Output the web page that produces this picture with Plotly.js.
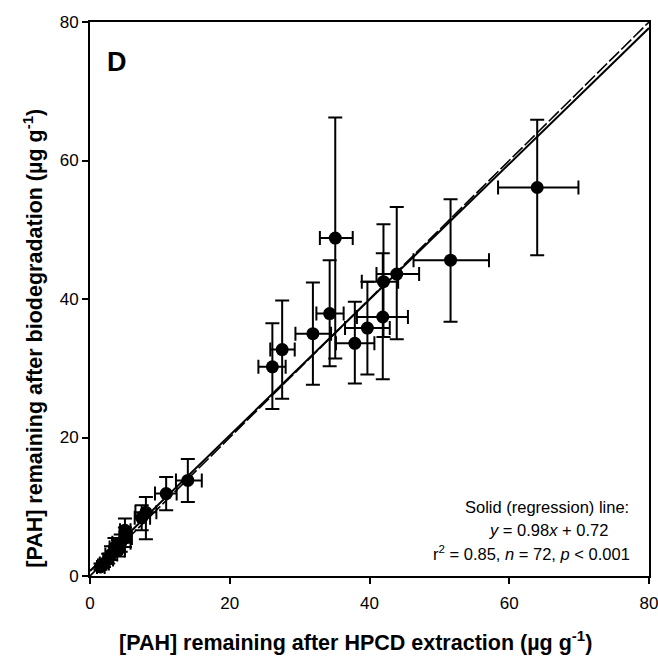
<!DOCTYPE html>
<html>
<head>
<meta charset="utf-8">
<script src="https://cdn.plot.ly/plotly-3.0.1.min.js"></script>
<style>html,body{margin:0;padding:0;background:#fff;}#chart{width:658px;height:659px;}</style>
</head>
<body>
<div id="chart"></div>
<script>
// HPCD-extractable PAH (x) vs PAH remaining after biodegradation (y), µg g-1
const hpcd      = [64.0, 51.6, 43.9, 42.0, 41.9, 39.7, 37.9, 35.1, 34.3, 31.9, 27.5, 26.1, 14.0, 10.9, 8.0, 7.4, 5.0, 5.0, 4.4, 4.0, 3.5, 3.0, 2.6, 2.0, 1.5];
const biodeg    = [56.1, 45.6, 43.6, 42.5, 37.4, 35.8, 33.6, 48.8, 37.9, 35.0, 32.7, 30.2, 13.8, 11.9, 9.2, 8.4, 6.6, 5.5, 4.8, 3.7, 4.1, 3.1, 2.4, 1.8, 1.3];
const hpcdLow   = [58.4, 46.3, 41.0, 38.9, 38.2, 36.5, 35.2, 32.9, 32.4, 29.4, 25.8, 24.1, 12.3, 9.3, 6.5, 6.4, 4.3, 4.2, 3.2, 3.0, 2.8, 2.2, 1.9, 1.4, 1.0];
const hpcdHigh  = [69.9, 57.1, 47.1, 44.1, 45.5, 42.9, 40.7, 37.6, 36.3, 34.5, 29.3, 28.0, 16.0, 12.4, 9.5, 8.6, 5.8, 6.0, 5.8, 5.0, 4.6, 3.9, 3.3, 2.7, 2.1];
const biodegLow = [46.3, 36.7, 34.2, 34.5, 28.4, 29.1, 27.8, 31.4, 30.3, 27.6, 25.6, 24.1, 10.7, 9.5, 5.3, 6.6, 5.0, 4.2, 3.5, 2.8, 3.0, 2.3, 1.8, 1.3, 0.9];
const biodegHigh= [65.9, 54.4, 53.3, 50.8, 46.6, 42.5, 39.6, 66.2, 45.6, 42.4, 39.8, 36.5, 16.9, 14.3, 11.4, 10.2, 8.3, 7.0, 6.0, 5.2, 5.5, 4.3, 3.2, 2.4, 1.8];

// regression and 1:1 reference
const slope = 0.98, intercept = 0.72;
const lineX = [0, 80];
const regY = lineX.map(v => slope * v + intercept);
const oneToOneY = lineX.slice();

const tickVals = [0, 20, 40, 60, 80];
const tickText = ['0', '20', '40', '60', '80'];

const xTitle = '[PAH] remaining after HPCD extraction (µg g<sup>-1</sup>)';
const yTitle = '[PAH] remaining after biodegradation (µg g<sup>-1</sup>)';

const FONT = 'Liberation Sans, Arial, Helvetica, sans-serif';

const traces = [
  {x: lineX, y: oneToOneY, mode: 'lines', line: {color: '#000', width: 1.6, dash: '14px,3px'}, hoverinfo: 'skip', showlegend: false},
  {x: lineX, y: regY, mode: 'lines', line: {color: '#000', width: 2}, hoverinfo: 'skip', showlegend: false},
  {
    x: hpcd, y: biodeg, mode: 'markers', type: 'scatter', showlegend: false,
    marker: {color: '#000', size: 13},
    error_x: {type: 'data', symmetric: false,
      array: hpcd.map((v, i) => hpcdHigh[i] - v),
      arrayminus: hpcd.map((v, i) => v - hpcdLow[i]),
      color: '#000', thickness: 2, width: 7},
    error_y: {type: 'data', symmetric: false,
      array: biodeg.map((v, i) => biodegHigh[i] - v),
      arrayminus: biodeg.map((v, i) => v - biodegLow[i]),
      color: '#000', thickness: 2, width: 7}
  }
];

const axisCommon = {
  range: [0, 80], tickvals: tickVals, ticktext: tickText,
  ticks: 'outside', ticklen: 6, tickwidth: 2, tickcolor: '#000',
  showline: true, linecolor: '#000', linewidth: 2, mirror: true,
  showgrid: false, zeroline: false, ticklabeloverflow: 'allow',
  tickfont: {family: FONT, size: 17, color: '#000'}
};

const layout = {
  width: 658, height: 659,
  margin: {l: 90, r: 9, t: 22, b: 83},
  paper_bgcolor: '#fff', plot_bgcolor: '#fff',
  font: {family: FONT, color: '#000'},
  xaxis: Object.assign({}, axisCommon, {ticklabelstandoff: 5}),
  yaxis: Object.assign({}, axisCommon, {}),
  annotations: [
    {text: xTitle, xref: 'paper', yref: 'paper', x: 0.4758, y: -0.1173, xanchor: 'center', yanchor: 'middle', showarrow: false, font: {family: FONT, size: 21.5, color: '#000', weight: 'bold'}},
    {text: yTitle, xref: 'paper', yref: 'paper', x: -0.102, y: 0.43, textangle: -90, xanchor: 'center', yanchor: 'middle', showarrow: false, font: {family: FONT, size: 21.5, color: '#000', weight: 'bold'}},
    {text: '<b>D</b>', xref: 'paper', yref: 'paper', x: 0.048, y: 0.928, xanchor: 'center', yanchor: 'middle', showarrow: false, font: {family: FONT, size: 27, color: '#000'}},
    {text: 'Solid (regression) line:', xref: 'paper', yref: 'paper', x: 0.8175, y: 0.1245, xanchor: 'center', yanchor: 'middle', showarrow: false, font: {family: FONT, size: 16.5, color: '#000'}},
    {text: '<i>y</i> = 0.98<i>x</i> + 0.72', xref: 'paper', yref: 'paper', x: 0.821, y: 0.083, xanchor: 'center', yanchor: 'middle', showarrow: false, font: {family: FONT, size: 16.5, color: '#000'}},
    {text: 'r<sup>2</sup> = 0.85, <i>n</i> = 72, <i>p</i> < 0.001', xref: 'paper', yref: 'paper', x: 0.789, y: 0.0415, xanchor: 'center', yanchor: 'middle', showarrow: false, font: {family: FONT, size: 16.5, color: '#000'}}
  ]
};

Plotly.newPlot('chart', traces, layout, {staticPlot: true, displayModeBar: false});
</script>
</body>
</html>
